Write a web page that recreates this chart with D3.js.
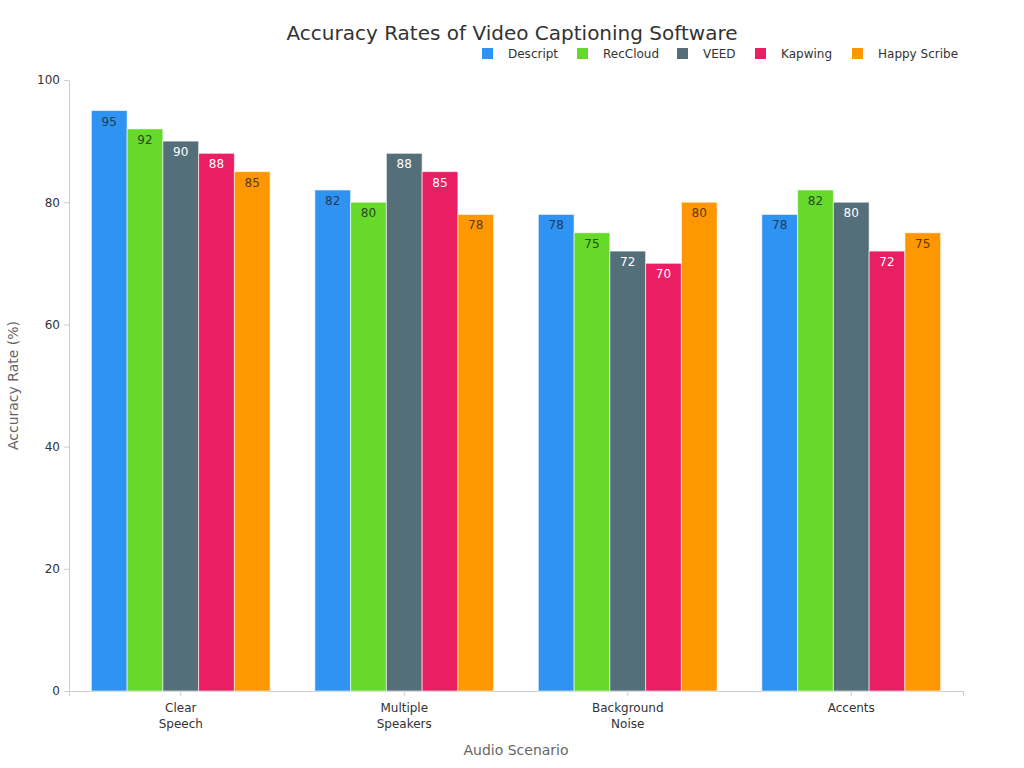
<!DOCTYPE html>
<html>
<head>
<meta charset="utf-8">
<script src="https://cdn.jsdelivr.net/npm/d3@7"></script>
<style>
body { margin: 0; background: #fff; font-family: "DejaVu Sans", sans-serif; }
.plotAxis text { font-size: 12px; fill: #333; font-family: "DejaVu Sans", sans-serif; }
.plotAxis path, .plotAxis line { stroke: #ccc; }
</style>
</head>
<body>
<svg id="chart" width="1024" height="768"></svg>
<script>
"use strict";

const categories = [["Clear", "Speech"], ["Multiple", "Speakers"], ["Background", "Noise"], ["Accents"]];
const seriesNames = ["Descript", "RecCloud", "VEED", "Kapwing", "Happy Scribe"];
const descript = [95, 82, 78, 78];
const recCloud = [92, 80, 75, 82];
const veed = [90, 88, 72, 80];
const kapwing = [88, 85, 70, 72];
const happyScribe = [85, 78, 80, 75];
const yTicks = [0, 20, 40, 60, 80, 100];

const colors = ["#2e93f3", "#66d92b", "#546e7a", "#e91e63", "#ff9800"];
const labelColors = ["#1f3b5a", "#2a4a18", "#ffffff", "#ffffff", "#5a3a10"];

const width = 1024;
const height = 768;
const margin = { top: 80, bottom: 77, left: 69, right: 61 };
const innerWidth = width - margin.left - margin.right;
const innerHeight = height - margin.top - margin.bottom;

const seriesValues = [descript, recCloud, veed, kapwing, happyScribe];
const rows = categories.map((c, i) => ({
    key: i,
    values: seriesValues.map((s, j) => ({ series: j, value: s[i] }))
}));

const svg = d3.select("svg#chart");

svg.append("text")
    .attr("x", 512)
    .attr("y", 40)
    .attr("text-anchor", "middle")
    .attr("font-size", 20)
    .attr("fill", "#333")
    .text("Accuracy Rates of Video Captioning Software");

const plot = svg.append("g")
    .attr("transform", `translate(${margin.left},${margin.top})`);

const xScale = d3.scaleBand()
    .domain(d3.range(categories.length))
    .range([0, innerWidth])
    .paddingInner(0.2)
    .paddingOuter(0.1);

const xSub = d3.scaleBand()
    .domain(d3.range(seriesNames.length))
    .range([0, xScale.bandwidth()]);

const yScale = d3.scaleLinear()
    .domain([0, 100])
    .range([innerHeight, 0]);

// axes
const xAxis = plot.append("g")
    .attr("class", "plotAxis")
    .attr("transform", `translate(0,${innerHeight})`)
    .call(d3.axisBottom(xScale).tickSizeOuter(0).tickSize(5).tickFormat(""));
xAxis.selectAll(".tick").each(function (d) {
    const t = d3.select(this).append("text")
        .attr("fill", "#333")
        .attr("y", 21)
        .attr("text-anchor", "middle");
    categories[d].forEach((line, k) => {
        t.append("tspan").attr("x", 0).attr("dy", k === 0 ? 0 : 16).text(line);
    });
});

plot.append("g")
    .attr("class", "plotAxis")
    .call(d3.axisLeft(yScale).tickValues(yTicks).tickSize(5).tickSizeOuter(0).tickPadding(4));

// bars
const groups = plot.selectAll("g.group")
    .data(rows)
    .enter()
    .append("g")
    .attr("class", "group")
    .attr("transform", d => `translate(${xScale(d.key)},0)`);

groups.selectAll("rect")
    .data(d => d.values)
    .enter()
    .append("rect")
    .attr("x", d => xSub(d.series))
    .attr("y", d => yScale(d.value))
    .attr("width", xSub.bandwidth())
    .attr("height", d => innerHeight - yScale(d.value))
    .attr("fill", d => colors[d.series])
    .attr("stroke", "rgba(255,255,255,0.6)")
    .attr("stroke-width", 1);

groups.selectAll("text.val")
    .data(d => d.values)
    .enter()
    .append("text")
    .attr("class", "val")
    .attr("x", d => xSub(d.series) + xSub.bandwidth() / 2)
    .attr("y", d => yScale(d.value) + 15)
    .attr("text-anchor", "middle")
    .attr("font-size", 12)
    .attr("fill", d => labelColors[d.series])
    .text(d => d.value);

// axis titles
svg.append("text")
    .attr("x", margin.left + innerWidth / 2)
    .attr("y", 755)
    .attr("text-anchor", "middle")
    .attr("font-size", 14)
    .attr("fill", "#666")
    .text("Audio Scenario");

svg.append("text")
    .attr("transform", `translate(18,${margin.top + innerHeight / 2}) rotate(-90)`)
    .attr("text-anchor", "middle")
    .attr("font-size", 14)
    .attr("fill", "#666")
    .text("Accuracy Rate (%)");

// legend
const legendX = [482, 577, 677, 755, 852];
const legend = svg.append("g");
seriesNames.forEach((name, i) => {
    const item = legend.append("g").attr("transform", `translate(${legendX[i]},48)`);
    item.append("rect").attr("width", 11).attr("height", 11).attr("fill", colors[i]);
    item.append("text").attr("x", 26).attr("y", 10).attr("font-size", 12).attr("fill", "#333").text(name);
});
</script>
</body>
</html>
